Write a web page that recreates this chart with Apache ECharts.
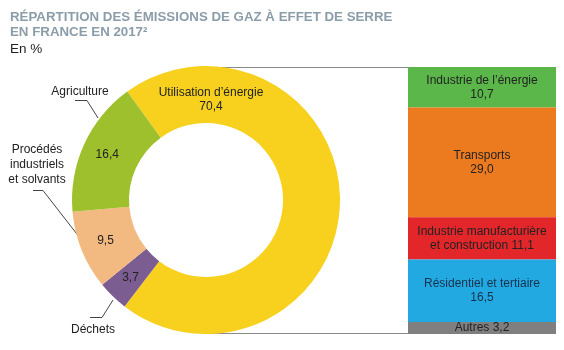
<!DOCTYPE html>
<html>
<head>
<meta charset="utf-8">
<script src="https://cdn.jsdelivr.net/npm/echarts@6/dist/echarts.min.js"></script>
<style>html,body{margin:0;padding:0;background:#fff}#c{width:564px;height:350px}</style>
</head>
<body>
<div id="c"></div>
<script>
// Donut: sources of emissions (%)
var pieNames = ["Utilisation d’énergie", "Déchets", "Procédés industriels et solvants", "Agriculture"];
var pieValues = [70.4, 3.7, 9.5, 16.4];
var pieOuterLabels = ["", "Déchets", "Procédés\nindustriels\net solvants", "Agriculture"];
// Stacked bar: breakdown of energy use (%)
var barNames = ["Industrie de l’énergie", "Transports", "Industrie manufacturière et construction", "Résidentiel et tertiaire", "Autres"];
var barValues = [10.7, 29.0, 11.1, 16.5, 3.2];
var barLabelTemplates = ["Industrie de l’énergie\n{v}", "Transports\n{v}", "Industrie manufacturière\net construction {v}", "Résidentiel et tertiaire\n{v}", "Autres {v}"];

var pieColors = ["#F8D11E", "#7B5D92", "#F2B980", "#9EC02C"];
var barColors = ["#5BB74A", "#EC7A1F", "#E3262A", "#22A9E1", "#7F7F7F"];
var FONT = "'Liberation Sans', Arial, sans-serif";
function fr(v){ return v.toFixed(1).replace('.', ','); }

var cx = 206, cy = 200, r0 = 77, r1 = 134;
var gLeft = 408, gTop = 67, gW = 148, gH = 267;

var barTotal = barValues.reduce(function(a,b){return a+b;}, 0);

var outerPos = [null, [93, 330], [37, 165], [80, 92]];

var chart = echarts.init(document.getElementById('c'), null, {renderer: 'canvas'});
var option = {
  animation: false,
  title: [
    {text: "RÉPARTITION DES ÉMISSIONS DE GAZ À EFFET DE SERRE\nEN FRANCE EN 2017²", left: 5, top: 5,
     textStyle: {fontFamily: FONT, fontSize: 13.3, fontWeight: 'bold', color: '#8C9DAA', lineHeight: 15}},
    {text: "En %", left: 5, top: 37,
     textStyle: {fontFamily: FONT, fontSize: 13.5, fontWeight: 'normal', color: '#222'}}
  ],
  grid: {left: gLeft, top: gTop, width: gW, height: gH},
  xAxis: {type: 'category', data: ['énergie'], show: false},
  yAxis: {type: 'value', min: 0, max: barTotal, inverse: true, show: false},
  graphic: [
    {type: 'polyline', z: -10, shape: {points: [[cx, gTop + 0.5], [gLeft + 0.5, gTop + 0.5], [gLeft + 0.5, gTop + gH - 0.5], [cx, gTop + gH - 0.5]]},
     style: {stroke: '#8a8a8a', lineWidth: 1, fill: null}},
    {type: 'polyline', shape: {points: [[75, 100.5], [87, 100.5], [98, 118]]}, style: {stroke: '#444', lineWidth: 1, fill: null}},
    {type: 'polyline', shape: {points: [[33, 190.5], [43, 190.5], [87, 247]]}, style: {stroke: '#444', lineWidth: 1, fill: null}},
    {type: 'polyline', shape: {points: [[90, 317.5], [102, 317.5], [113, 300]]}, style: {stroke: '#444', lineWidth: 1, fill: null}}
  ],
  series: [
    {
      type: 'pie', center: [cx, cy], radius: [r0, r1], startAngle: 126, clockwise: true,
      silent: true,
      data: pieNames.map(function(n, i){ return {name: n, value: pieValues[i], itemStyle: {color: pieColors[i]}}; }),
      label: {show: true, position: 'inside', fontFamily: FONT, fontSize: 12, color: '#222', lineHeight: 14,
        formatter: function(p){ return p.dataIndex === 0 ? p.name + "\n" + fr(p.value) : fr(p.value); }},
      labelLine: {show: false},
      labelLayout: function(p){
        if (p.dataIndex === 0) return {x: 211, y: 100, align: 'center', verticalAlign: 'middle'};
        return {};
      }
    },
    {
      type: 'pie', center: [cx, cy], radius: [r0, r1], startAngle: 126, clockwise: true,
      silent: true, z: 3,
      data: pieNames.map(function(n, i){ return {name: n, value: pieValues[i], itemStyle: {color: 'rgba(0,0,0,0)'},
        label: {show: i !== 0}}; }),
      label: {show: true, position: 'inside', overflow: 'none', fontFamily: FONT, fontSize: 12, color: '#222', lineHeight: 15, align: 'center',
        formatter: function(p){ return pieOuterLabels[p.dataIndex]; }},
      labelLine: {show: false},
      labelLayout: function(p){
        var pos = outerPos[p.dataIndex];
        if (!pos) return {};
        return {x: pos[0], y: pos[1], align: 'center', verticalAlign: 'middle'};
      }
    }
  ].concat(barNames.map(function(n, i){
    return {
      type: 'bar', name: n, stack: 'e', barWidth: '100%', silent: true,
      data: [barValues[i]],
      itemStyle: {color: barColors[i]},
      label: {show: true, position: 'inside', fontFamily: FONT, fontSize: 12, lineHeight: 14,
        color: i === 3 ? '#17324d' : '#222',
        formatter: function(){ return barLabelTemplates[i].replace('{v}', fr(barValues[i])); }}
    };
  }))
};
chart.setOption(option);
</script>
</body>
</html>
